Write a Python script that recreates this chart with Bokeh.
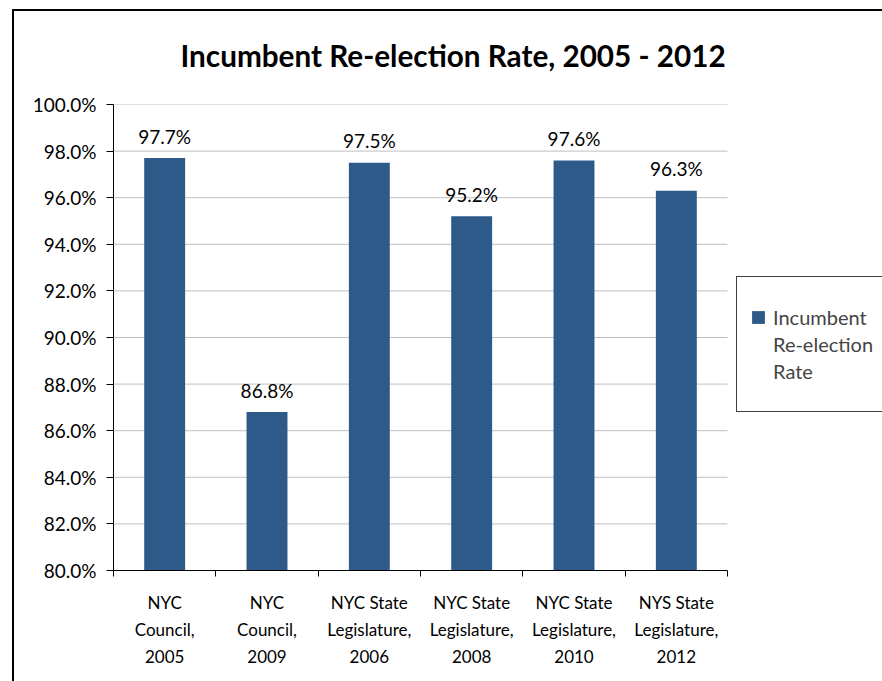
from bokeh.plotting import figure
from bokeh.models import (ColumnDataSource, FixedTicker, Range1d, Legend, LegendItem,
                          CustomJSTickFormatter, InlineStyleSheet)
from bokeh.core.properties import value
from bokeh.embed import file_html
from bokeh.resources import INLINE

categories = [
    "NYC\nCouncil,\n2005",
    "NYC\nCouncil,\n2009",
    "NYC State\nLegislature,\n2006",
    "NYC State\nLegislature,\n2008",
    "NYC State\nLegislature,\n2010",
    "NYS State\nLegislature,\n2012",
]
rates = [97.7, 86.8, 97.5, 95.2, 97.6, 96.3]
y_ticks = [80, 82, 84, 86, 88, 90, 92, 94, 96, 98, 100]
series_name_lines = ["Incumbent", "Re-election", "Rate"]

FONT = "Lato"
BAR = "#2E5A8A"

n = len(categories)
centers = [i + 0.5 for i in range(n)]
source = ColumnDataSource(dict(
    x=centers,
    top=rates,
    label=[f"{r:.1f}%" for r in rates],
))

# the plotting frame runs to the right edge so the legend can sit beside the bars;
# the category axis covers 0..n over the first 614 px of it
frame_px, cat_px = 769, 614

# outer chart border and the legend box, drawn as page decoration
chrome_css = InlineStyleSheet(css="""
:host { position: relative; }
:host::after {
  content: ""; position: absolute; left: 12px; top: 9px; right: 0; bottom: 0;
  border-left: 2px solid black; border-top: 2px solid black; pointer-events: none;
}
:host::before {
  content: ""; position: absolute; left: 736px; top: 276px; right: 0; height: 134px;
  border: 1px solid #404040; border-right: none; pointer-events: none; z-index: 5;
}
""")

p = figure(width=882, height=681, output_backend="svg", toolbar_location=None,
           x_range=Range1d(0, n * frame_px / cat_px), y_range=Range1d(80, 100),
           min_border_left=113, min_border_right=0, min_border_top=104,
           min_border_bottom=111, stylesheets=[chrome_css])

p.title.text = "Incumbent Re-election Rate, 2005 - 2012"
p.title.text_font = FONT
p.title.text_font_size = "29.7px"
p.title.text_font_style = "bold"
p.title.text_color = "black"
p.title.align = "left"
p.title.offset = 67
p.title.standoff = 63

# horizontal gridlines across the category span only
p.segment(x0=0, x1=n, y0=y_ticks[1:], y1=y_ticks[1:], line_color="#BFBFBF", line_width=1)

bars = p.vbar(x="x", top="top", bottom=80, width=0.4, source=source,
              fill_color=BAR, line_color=None)
p.text(x="x", y="top", text="label", source=source, y_offset=-22,
       text_align="center", text_baseline="alphabetic",
       text_font=value(FONT), text_font_size="19px", text_color="black")

p.xgrid.visible = False
p.ygrid.visible = False
p.outline_line_color = None

# y axis: percentages with outward ticks
ya = p.yaxis[0]
ya.ticker = FixedTicker(ticks=y_ticks)
ya.formatter = CustomJSTickFormatter(code="return tick.toFixed(1) + '%';")
ya.axis_line_color = "black"
ya.major_tick_line_color = "black"
ya.major_tick_out = 7
ya.major_tick_in = 0
ya.minor_tick_line_color = None
ya.major_label_standoff = 10
ya.major_label_text_font = FONT
ya.major_label_text_font_size = "19px"
ya.major_label_text_color = "black"

# x axis: category names under bar centres, tick marks on category boundaries
xa = p.xaxis[0]
xa.bounds = (0, n)
xa.ticker = FixedTicker(ticks=centers, minor_ticks=list(range(n + 1)))
xa.major_label_overrides = {c: name for c, name in zip(centers, categories)}
xa.axis_line_color = "black"
xa.major_tick_line_color = None
xa.minor_tick_line_color = "black"
xa.minor_tick_out = 6
xa.minor_tick_in = 0
xa.major_label_standoff = 15
xa.major_label_text_font = FONT
xa.major_label_text_font_size = "17px"
xa.major_label_text_color = "black"
xa.major_label_text_line_height = 1.30

# legend: swatch beside the first line of the wrapped series name
legend_items = [LegendItem(label=series_name_lines[0], renderers=[bars])]
legend_items += [LegendItem(label=t, renderers=[]) for t in series_name_lines[1:]]
legend = Legend(items=legend_items, location=(637, 186), padding=16, margin=0,
                spacing=0, border_line_color=None, background_fill_alpha=0,
                glyph_width=16, glyph_height=16, label_standoff=7, label_height=27,
                label_text_font=FONT, label_text_font_size="20px",
                label_text_line_height=1.0)
p.add_layout(legend, "center")

open("out.html", "w").write(file_html(p, INLINE))
